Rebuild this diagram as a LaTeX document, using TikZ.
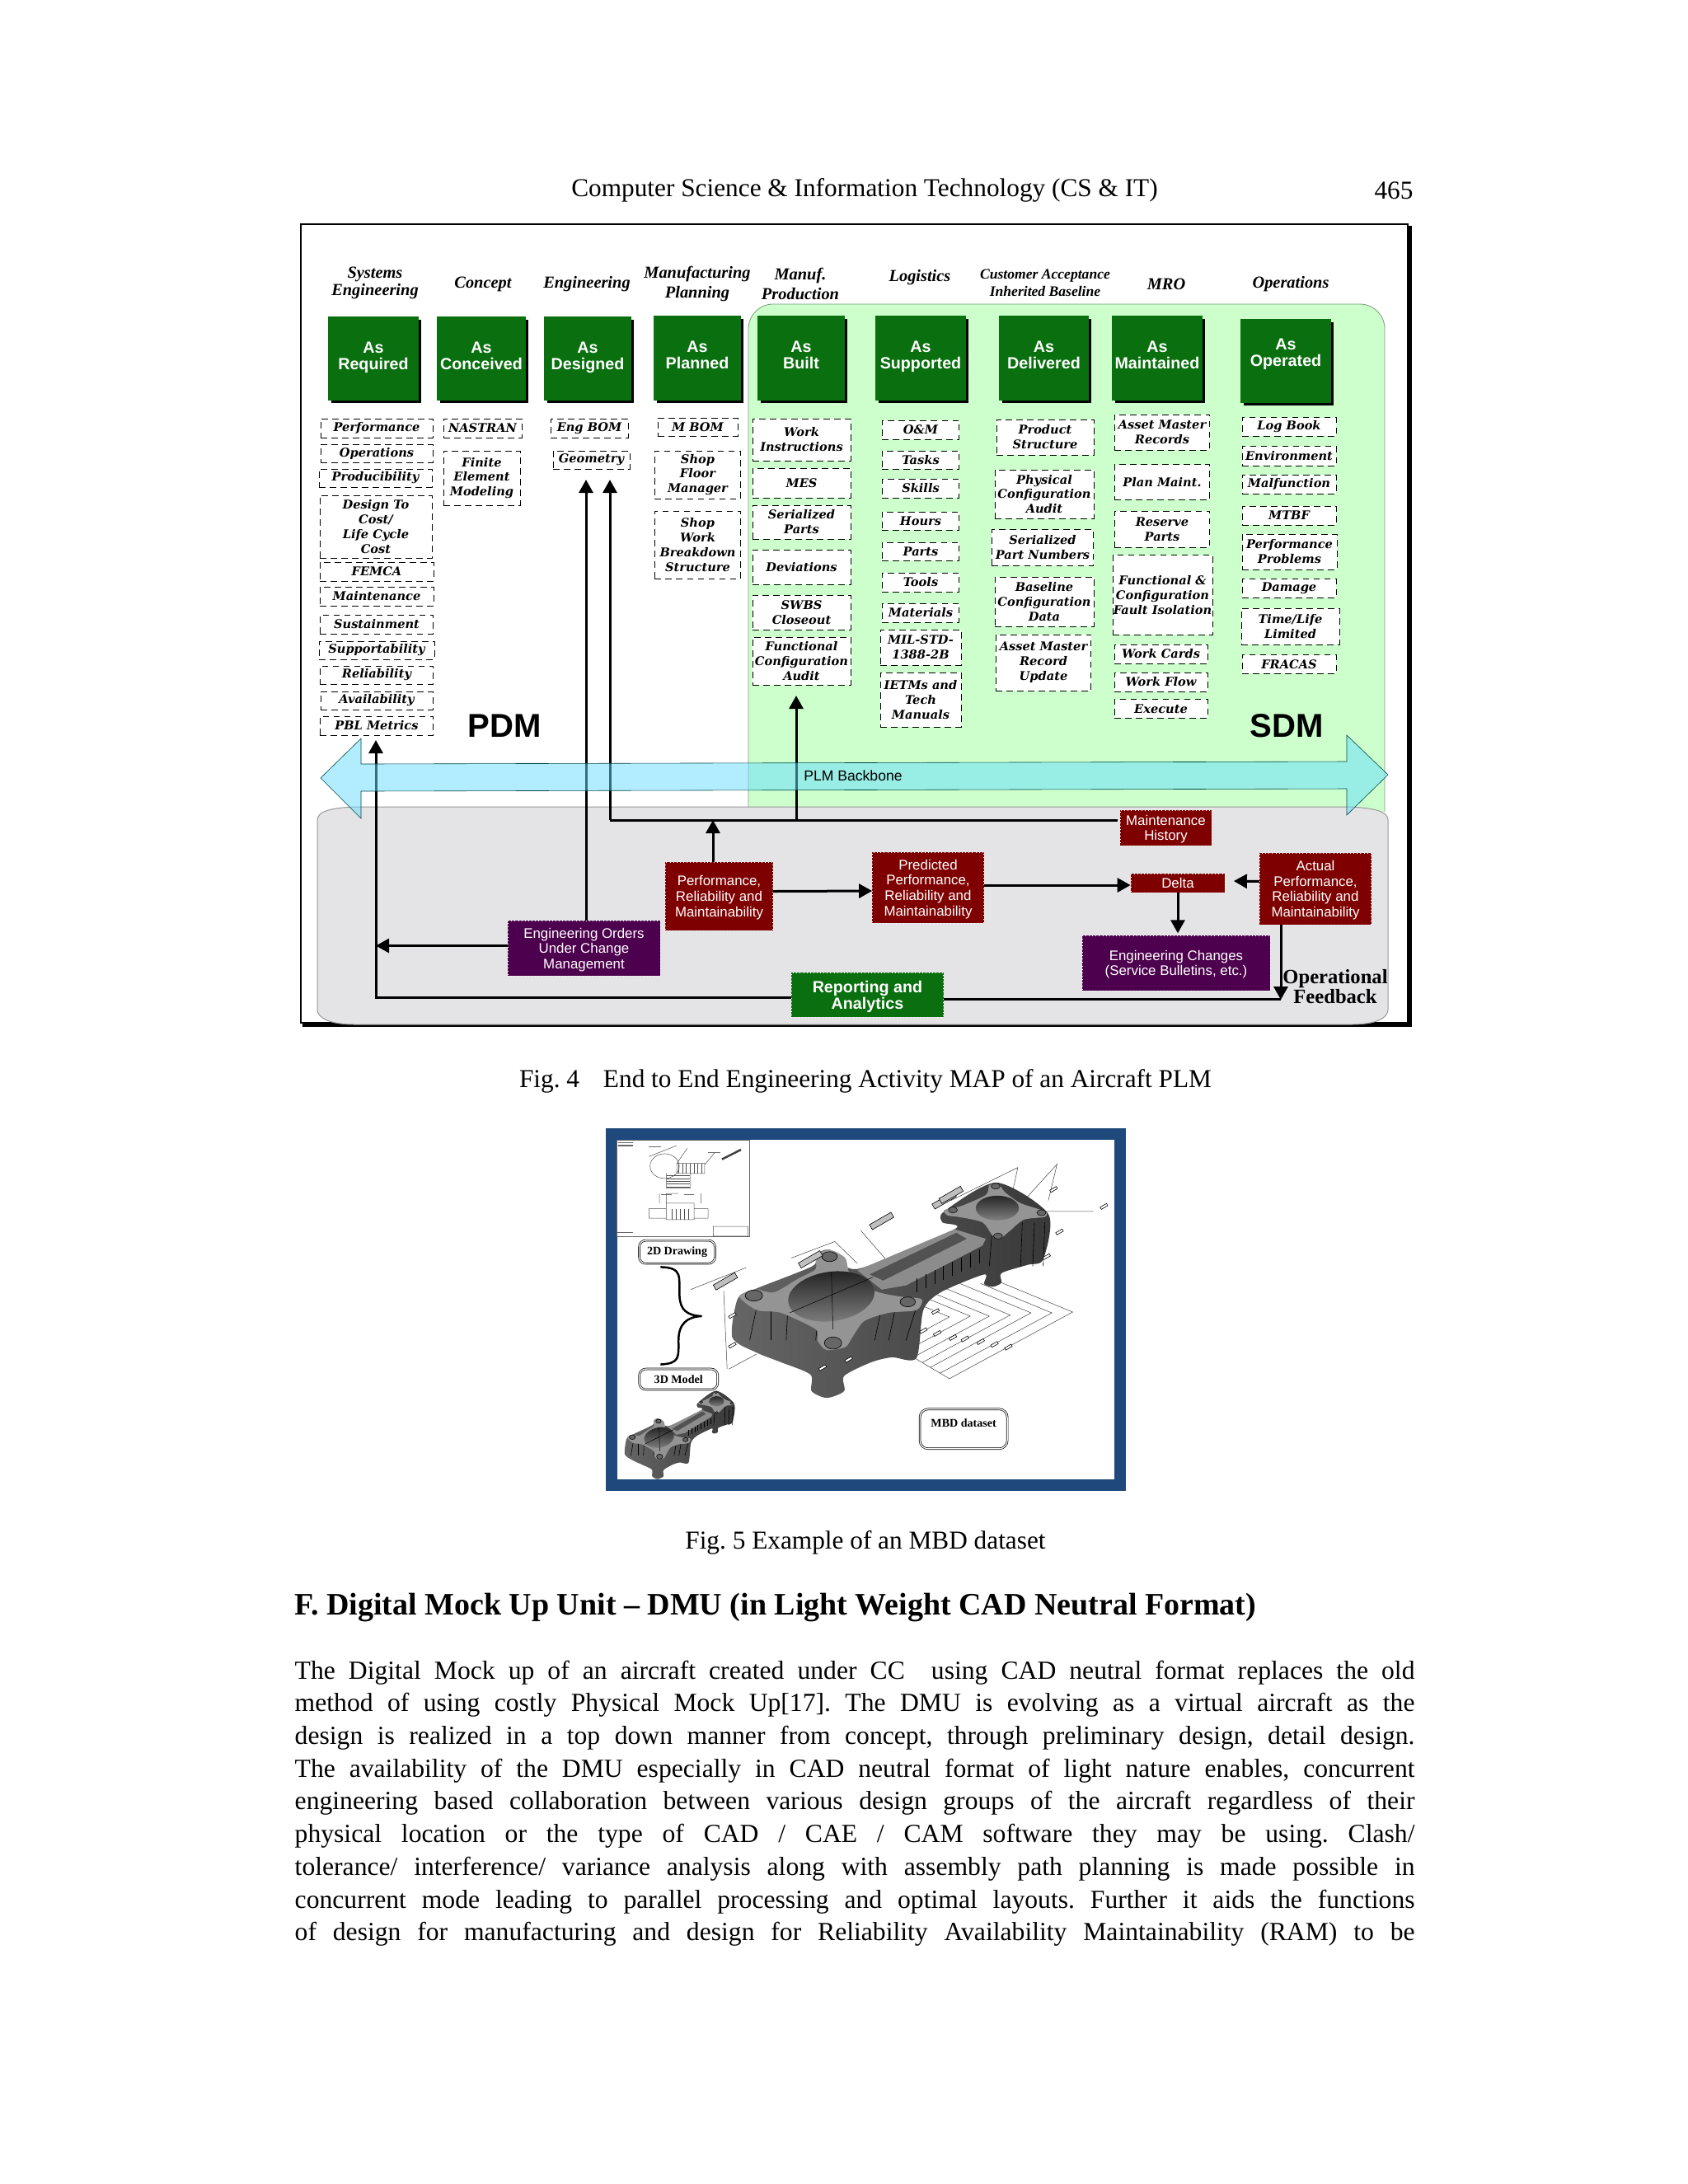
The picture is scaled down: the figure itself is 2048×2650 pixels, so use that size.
\documentclass[tikz,border=0pt]{standalone}
\usepackage{fontspec}
\setmainfont{Liberation Serif}
\setsansfont{Liberation Sans}
\newfontfamily\bookfont{DejaVu Serif}
\usetikzlibrary{arrows.meta, shadows}

\definecolor{asgreen}{HTML}{0A700F}
\definecolor{panelgreen}{HTML}{CCFFCC}
\definecolor{panelgray}{HTML}{E4E3E5}
\definecolor{bluearrow}{HTML}{66DDFF}
\definecolor{darkred}{HTML}{7F0000}
\definecolor{darkpurple}{HTML}{4D004D}
\definecolor{frameblue}{HTML}{1F497D}

\tikzset{
  boxsize/.style 2 args={minimum width=#1cm, minimum height=#2cm},
  asbox/.style={fill=asgreen, draw=asgreen, text=white, inner sep=0pt, align=center,
    font=\sffamily\bfseries\fontsize{5.6}{5.8}\selectfont, text depth=2pt,
    drop shadow={fill=black, opacity=1, shadow xshift=.035cm, shadow yshift=-.035cm}},
  dashbox/.style={draw, fill=white, dash pattern=on 2.2pt off 1.5pt, line width=.009cm,
    inner sep=0pt, align=center, font=\bookfont\bfseries\itshape\fontsize{4.15}{5.1}\selectfont},
  phase/.style={inner sep=0pt, align=center, font=\bfseries\itshape\fontsize{5.8}{6}\selectfont},
  sidelabel/.style={inner sep=0pt, font=\sffamily\bfseries\fontsize{11.4}{12}\selectfont},
  redbox/.style={fill=darkred, draw=white, densely dotted, line width=.006cm, text=white, inner sep=0pt,
    align=center, text depth=0pt, font=\sffamily\fontsize{4.8}{5.3}\selectfont},
  purplebox/.style={redbox, fill=darkpurple},
  reportbox/.style={redbox, fill=asgreen, font=\sffamily\bfseries\fontsize{5.6}{5.7}\selectfont},
  flow/.style={line width=.03cm, -{Triangle[length=.16cm, width=.17cm]}},
  plain/.style={line width=.03cm},
  pagetext/.style={inner sep=0pt, font=\frenchspacing\fontsize{8.9}{11.3}\selectfont},
  tagbox/.style={draw, double, rounded corners=.08cm, line width=.007cm, double distance=.012cm, inner sep=0pt,
    font=\bfseries\fontsize{4}{4.2}\selectfont},
  dimline/.style={line width=.005cm, black!75},
  dimtag/.style={draw, fill=white, line width=.006cm, inner sep=0pt, minimum width=.09cm, minimum height=.03cm},
  rodbody/.pic={
    % silhouette of the part
    \shade[left color=black!60, right color=black!78] plot[smooth cycle, tension=.45] coordinates {(415,650) (400,790) (470,845) (540,880) (625,925) (628,985)
      (672,1010) (722,985) (722,930) (800,880) (860,862) (930,865) (950,690) (1000,625) (1125,560) (1125,595)
      (1150,605) (1175,590) (1175,555) (1250,525) (1295,505) (1310,340) (1160,225) (1010,330) (1005,370)
      (1040,395) (760,540) (680,470) (640,490) (630,530) (462,615)};
    % edges on the sides
    \foreach \a/\b in {450/470, 510/510, 555/560, 640/650, 700/720, 810/830, 850/870, 900/930}
      \draw[black, line width=.006cm] (\a,800) -- (\b,680);
    \foreach \a/\b in {1140/1150, 1230/1235, 1265/1270, 1295/1300}
      \draw[black, line width=.006cm] (\a,530) -- (\b,370);
    % web of the shank
    \fill[black!45] (760,545) -- (1040,395) -- (1130,430) -- (1120,455) -- (900,600) -- (830,615) -- cycle;
    \fill[black!68] (795,560) -- (1045,408) -- (1075,430) -- (835,582) -- cycle;
    \foreach \a in {0,...,7}
      \draw[black, line width=.005cm] (930+\a*26,625-\a*15) -- (930+\a*26,575-\a*15);
    % big end top face
    \fill[black!42] plot[smooth cycle, tension=.45] coordinates {(420,640) (465,615) (520,625) (590,575) (640,540) (640,490)
      (680,470) (725,500) (740,560) (810,620) (880,640) (945,650) (930,690) (850,700) (780,730) (745,790)
      (725,825) (670,835) (645,800) (640,760) (540,700) (470,690)};
    \shade[top color=black!85, bottom color=black!50, rotate around={8:(685,640)}] (685,640) ellipse [x radius=125, y radius=90];
    \foreach \a/\b/\rx/\ry in {462/637/25/20, 680/495/22/18, 905/660/22/18, 690/810/25/22}
      \filldraw[fill=black!60, draw=black, line width=.006cm] (\a,\b) ellipse [x radius=\rx, y radius=\ry];
    \draw[black, line width=.005cm] (565,700) -- (805,570) (685,550) -- (690,760);
    % small end top face
    \fill[black!42] plot[smooth cycle, tension=.45] coordinates {(1010,325) (1060,310) (1130,270) (1140,235) (1165,228)
      (1185,260) (1230,300) (1300,330) (1300,350) (1240,360) (1200,400) (1170,430) (1150,420) (1120,370) (1050,350) (1020,345)};
    \shade[top color=black!85, bottom color=black!50] (1163,318) ellipse [x radius=62, y radius=45];
    \foreach \a/\b in {1035/325, 1158/238, 1290/335, 1165/420}
      \filldraw[fill=black!60, draw=black, line width=.005cm] (\a,\b) ellipse [x radius=13, y radius=11];
  }
}

\begin{document}
\begin{tikzpicture}[x=.01cm, y=-.01cm]
  \useasboundingbox (0,0) rectangle (2048,2650);
  \fill[white] (0,0) rectangle (2048,2650);

  % Page header
  \node[pagetext] (runhead) at (1049,231) {Computer Science \& Information Technology (CS \& IT)};
  \node[pagetext] (pageno) at (1691,231) {465};

  % Figure 4 frame and panels
  \draw[line width=.02cm, fill=white] (365,272) rectangle (1708,1241);
  \draw[line width=.05cm] (1710,274) -- (1710,1243) -- (367,1243);
  \draw[panelgreen!60!black, line width=.008cm, fill=panelgreen, rounded corners=.3cm]
    (908,985) -- (908,369) -- (1680,369) -- (1680,985);
  \draw[black!40, line width=.01cm, fill=panelgray]
    (385,995) .. controls (385,985) and (400,979) .. (440,979) -- (1640,979)
    .. controls (1670,981) and (1684,985) .. (1684,995) -- (1684,1225)
    .. controls (1684,1235) and (1670,1243) .. (1640,1243) -- (430,1243)
    .. controls (400,1243) and (385,1235) .. (385,1225) -- cycle;

  % Phases
  \node[phase] (phsys) at (455,343.5) {Systems\\Engineering};
  \node[phase] (phcon) at (586,344.5) {Concept};
  \node[phase] (pheng) at (712,344.5) {Engineering};
  \node[phase] (phpla) at (846,344.5) {Manufacturing\\[.8pt]Planning};
  \node[phase] (phpro) at (971,344.5) {Manuf.\\[.8pt]Production};
  \node[phase] (phlog) at (1116,336.5) {Logistics};
  \node[phase, font=\bfseries\itshape\fontsize{5}{6}\selectfont] (phacc) at (1268,343.5) {Customer Acceptance\\Inherited Baseline};
  \node[phase] (phmro) at (1415,344.5) {MRO};
  \node[phase] (phope) at (1566,344.5) {Operations};

  % As-is states
  \node[asbox, boxsize={1.08}{1.00}] (asreq) at (453,435) {As\\Required};
  \node[asbox, boxsize={1.07}{1.00}] (ascon) at (584,435) {As\\Conceived};
  \node[asbox, boxsize={1.04}{1.00}] (asdes) at (713,435) {As\\Designed};
  \node[asbox, boxsize={1.04}{1.01}] (aspla) at (846,434.5) {As\\Planned};
  \node[asbox, boxsize={1.04}{1.01}] (asbui) at (972,434.5) {As\\Built};
  \node[asbox, boxsize={1.08}{1.01}] (assup) at (1117,434.5) {As\\Supported};
  \node[asbox, boxsize={1.08}{1.01}] (asdel) at (1266.5,434.5) {As\\Delivered};
  \node[asbox, boxsize={1.08}{1.01}] (asmai) at (1404,434.5) {As\\Maintained};
  \node[asbox, boxsize={1.08}{1.00}, text depth=6pt] (asope) at (1560,438) {As\\Operated};

  % Systems engineering column
  \node[dashbox, boxsize={1.36}{.23}] (perf) at (457,519.5) {Performance};
  \node[dashbox, boxsize={1.36}{.22}] (oper) at (457,550) {Operations};
  \node[dashbox, boxsize={1.37}{.22}] (prod) at (455.5,580) {Producibility};
  \node[dashbox, boxsize={1.36}{.76}] (dtc) at (456,639) {Design To\\Cost/\\Life Cycle\\Cost};
  \node[dashbox, boxsize={1.38}{.23}] (femca) at (457,693.5) {FEMCA};
  \node[dashbox, boxsize={1.38}{.23}] (maint) at (457,723.5) {Maintenance};
  \node[dashbox, boxsize={1.37}{.23}] (sust) at (457,757.5) {Sustainment};
  \node[dashbox, boxsize={1.40}{.22}] (supp) at (457,789) {Supportability};
  \node[dashbox, boxsize={1.37}{.22}] (reli) at (457,819) {Reliability};
  \node[dashbox, boxsize={1.36}{.22}] (avail) at (457,850) {Availability};
  \node[dashbox, boxsize={1.37}{.23}] (pbl) at (457,880.5) {PBL Metrics};

  % Concept and engineering columns
  \node[dashbox, boxsize={.95}{.23}] (nastran) at (585.5,519.5) {NASTRAN};
  \node[dashbox, boxsize={.93}{.66}] (fem) at (584.5,580) {Finite\\Element\\Modeling};
  \node[dashbox, boxsize={.94}{.23}] (ebom) at (715,519.5) {Eng BOM};
  \node[dashbox, boxsize={.93}{.22}] (geom) at (717.5,558) {Geometry};

  % Manufacturing planning column
  \node[dashbox, boxsize={.97}{.22}] (mbom) at (846.5,518) {M BOM};
  \node[dashbox, boxsize={1.04}{.58}] (sfm) at (846.5,576) {Shop\\Floor\\Manager};
  \node[dashbox, boxsize={1.04}{.82}] (swbs) at (846.5,661) {Shop\\Work\\Breakdown\\Structure};

  % Production column
  \node[dashbox, boxsize={1.19}{.51}] (wi) at (972.5,533.5) {Work\\Instructions};
  \node[dashbox, boxsize={1.19}{.36}] (mes) at (972.5,586) {MES};
  \node[dashbox, boxsize={1.19}{.41}] (serp) at (972.5,633.5) {Serialized\\Parts};
  \node[dashbox, boxsize={1.19}{.42}] (devi) at (972.5,688) {Deviations};
  \node[dashbox, boxsize={1.19}{.42}] (close) at (972.5,743) {SWBS\\Closeout};
  \node[dashbox, boxsize={1.19}{.58}] (fca) at (972.5,802) {Functional\\Configuration\\Audit};

  % Logistics column
  \node[dashbox, boxsize={.935}{.23}] (om) at (1117,521.5) {O\&M};
  \node[dashbox, boxsize={.935}{.22}] (tasks) at (1117,558) {Tasks};
  \node[dashbox, boxsize={.935}{.23}] (skills) at (1117,592.5) {Skills};
  \node[dashbox, boxsize={.935}{.22}] (hours) at (1117,632) {Hours};
  \node[dashbox, boxsize={.935}{.22}] (parts) at (1117,669) {Parts};
  \node[dashbox, boxsize={.935}{.23}] (tools) at (1117,706.5) {Tools};
  \node[dashbox, boxsize={.935}{.23}] (mats) at (1117,743.5) {Materials};
  \node[dashbox, boxsize={.98}{.43}] (mil) at (1117,785.5) {MIL-STD-\\1388-2B};
  \node[dashbox, boxsize={.98}{.66}] (ietm) at (1117,849) {IETMs and\\Tech\\Manuals};

  % Delivery column
  \node[dashbox, boxsize={1.18}{.43}] (pstr) at (1268,530.5) {Product\\Structure};
  \node[dashbox, boxsize={1.20}{.59}] (pca) at (1267,599.5) {Physical\\Configuration\\Audit};
  \node[dashbox, boxsize={1.23}{.435}] (spn) at (1265,664.5) {Serialized\\Part Numbers};
  \node[dashbox, boxsize={1.20}{.60}] (bcd) at (1267,730) {Baseline\\Configuration\\Data};
  \node[dashbox, boxsize={1.155}{.68}] (amru) at (1266,804) {Asset Master\\Record\\Update};

  % MRO column
  \node[dashbox, boxsize={1.155}{.43}] (amr) at (1410,524.5) {Asset Master\\Records};
  \node[dashbox, boxsize={1.155}{.425}] (plan) at (1410,585) {Plan Maint.};
  \node[dashbox, boxsize={1.155}{.44}] (res) at (1410,642) {Reserve\\Parts};
  \node[dashbox, boxsize={1.21}{.965}] (fcfi) at (1410.5,722) {Functional \&\\Configuration\\Fault Isolation};
  \node[dashbox, boxsize={1.13}{.23}] (wc) at (1408.5,793.5) {Work Cards};
  \node[dashbox, boxsize={1.13}{.23}] (wf) at (1408.5,827.5) {Work Flow};
  \node[dashbox, boxsize={1.13}{.225}] (exec) at (1408.5,860) {Execute};

  % Operations column
  \node[dashbox, boxsize={1.14}{.225}] (logb) at (1564,518) {Log Book};
  \node[dashbox, boxsize={1.14}{.235}] (env) at (1564,553.5) {Environment};
  \node[dashbox, boxsize={1.14}{.23}] (malf) at (1564,587.5) {Malfunction};
  \node[dashbox, boxsize={1.14}{.23}] (mtbf) at (1564,625.5) {MTBF};
  \node[dashbox, boxsize={1.15}{.43}] (pp) at (1564.5,669.5) {Performance\\Problems};
  \node[dashbox, boxsize={1.14}{.225}] (dam) at (1564,714) {Damage};
  \node[dashbox, boxsize={1.19}{.44}] (tll) at (1565.5,760) {Time/Life\\Limited};
  \node[dashbox, boxsize={1.14}{.225}] (frac) at (1564,806) {FRACAS};

  \node[sidelabel] (pdm) at (612,881) {PDM};
  \node[sidelabel] (sdm) at (1561,881) {SDM};

  % Lifecycle feedback boxes
  \node[redbox, boxsize={1.11}{.43}] (mhist) at (1414.5,1004.5) {Maintenance\\History};
  \node[redbox, boxsize={1.30}{.83}] (prm) at (872.5,1087.5) {Performance,\\Reliability and\\Maintainability};
  \node[redbox, boxsize={1.35}{.86}] (pprm) at (1126,1077) {Predicted\\Performance,\\Reliability and\\Maintainability};
  \node[redbox, boxsize={1.14}{.23}] (delta) at (1429,1071.5) {Delta};
  \node[redbox, boxsize={1.35}{.87}] (aprm) at (1596,1078.5) {Actual\\Performance,\\Reliability and\\Maintainability};
  \node[purplebox, boxsize={1.85}{.67}] (eouc) at (708.5,1150.5) {Engineering Orders\\Under Change\\Management};
  \node[purplebox, boxsize={2.28}{.67}] (echg) at (1427,1168.5) {Engineering Changes\\(Service Bulletins, etc.)};
  \node[reportbox, boxsize={1.84}{.54}] (rep) at (1052.5,1207) {Reporting and\\Analytics};
  \node[inner sep=0pt, align=center, font=\bfseries\fontsize{7}{6.6}\selectfont] (opfb) at (1620,1197) {Operational\\Feedback};

  % Connectors
  \coordinate (bus) at (865,995);
  \coordinate (geotip) at (740,582);
  \coordinate (eotip) at (711,582);
  \coordinate (fcatip) at (966,844);
  \coordinate (pbltip) at (456,898);
  \coordinate (repcorner) at (456,1210);
  \coordinate (opftip) at (1554,1213);
  \draw[flow] (prm.north -| bus) -- (bus);
  \draw[plain] (mhist.west |- bus) ++(-3,0) -- (geotip |- bus);
  \draw[flow] (geotip |- bus) -- (geotip);
  \draw[flow] (fcatip |- bus) -- (fcatip);
  \draw[flow] (eouc.north -| eotip) -- (eotip);
  \draw[flow] (rep.west |- repcorner) -- (repcorner) -- (pbltip);
  \draw[flow] (eouc.west) ++(0,-3) -- (456,1147.5);
  \draw[flow] (prm.east) ++(0,-6) -- (pprm.west |- 0,1081);
  \draw[flow] (pprm.east) ++(0,-3) -- (delta.west |- 0,1074);
  \draw[flow] (aprm.west) ++(0,-9) -- ([xshift=3]delta.east |- 0,1069);
  \draw[flow] (delta.south) -- ++(0,49) coordinate (echgtip);
  \draw[flow] (aprm.south -| opftip) -- (opftip);
  \draw[plain] (rep.east |- opftip) ++(0,-1) -- (1554,1212);

  % PLM backbone
  \fill[bluearrow, opacity=.5] (389,944) -- (438,896) -- (438,927) -- (1634,924) -- (1634,892) -- (1684,940)
    -- (1634,989) -- (1634,957) -- (438,960) -- (438,993) -- cycle;
  \draw[black!45!teal, line width=.006cm] (389,944) -- (438,896) -- (438,927) -- (1634,924) -- (1634,892) -- (1684,940)
    -- (1634,989) -- (1634,957) -- (438,960) -- (438,993) -- cycle;
  \node[inner sep=0pt, font=\sffamily\fontsize{5}{6}\selectfont] (plm) at (1035,941) {PLM Backbone};

  \node[pagetext] (cap4) at (1050,1312) {Fig. 4\hspace{6pt} End to End Engineering Activity MAP of an Aircraft PLM};

  % Figure 5
  \draw[line width=.14cm, frameblue] (742,1376) rectangle (1359,1802);
  \begin{scope}[shift={(720,1360)}, x=.00421cm, y=-.00333cm]
    % 2D sheet
    \draw[black!60, line width=.006cm] (68,70) rectangle (450,422);
    \draw[black!70, line width=.005cm] (205,165) ellipse [x radius=42, y radius=45] (240,155) rectangle (320,192)
      (345,385) rectangle (445,420) (210,300) rectangle (290,360) (160,320) rectangle (210,355) (290,320) rectangle (330,355)
      (190,265) -- (190,300) (310,265) -- (310,300) (210,190) -- (210,245) -- (280,245) -- (280,190)
      (160,130) -- (240,90) (240,155) -- (270,100) (320,160) -- (350,115) (210,300) -- (210,265) -- (245,265);
    \foreach \a in {0,...,6}
      \draw[black!70, line width=.005cm] (245+\a*11,155) -- (245+\a*11,192);
    \foreach \a in {0,...,4}
      \draw[black!70, line width=.005cm] (225+\a*12,320) -- (225+\a*12,360) (212,200+\a*10) -- (278,200+\a*10);
    \draw[black!60, line width=.012cm] (72,80) -- (115,80) (72,90) -- (115,90) (160,95) -- (195,95) (330,115) -- (365,115)
      (195,270) -- (225,270) (260,268) -- (290,268) (70,408) -- (115,408);
    \draw[black!75, line width=.025cm] (370,140) -- (425,105);
    % connecting rod with its dimensions
    \foreach \x/\y/\u/\v in {1025/715/868/822, 1085/712/895/842, 1140/712/921/862, 1200/708/947/881, 1260/700/970/899, 1320/700/998/920}
      \draw[dimline] (\u,\v) -- (\x,\y) -- (\x-205,\y-107);
    \draw[dimline] (925,865) -- (1025,940) -- (1380,697) -- (1175,590);
    \draw[dimline] (280,615) -- (440,535) (390,905) -- (470,850) (385,905) -- (375,620) (1030,290) -- (1222,170) -- (1200,300)
      (1240,290) -- (1335,158) -- (1310,290) (1300,330) -- (1440,330) (770,400) -- (900,590) (570,500) -- (695,440) -- (760,520);
    \pic at (0,0) {rodbody};
    \foreach \x/\y in {985/695, 950/765, 990/775, 1035/790, 1070/795, 1115/805, 1155/815, 1195/825, 400/710, 400/818,
      660/900, 735/870, 1325/250, 1470/312, 1342/405, 1305/495}
      \node[dimtag, rotate=30] at (\x,\y) {};
    \foreach \x/\y in {380/585, 625/505, 830/365, 1010/290, 1030/270}
      \node[dimtag, rotate=30, minimum width=.3cm, minimum height=.07cm, fill=black!25] at (\x,\y) {};
    \pic[xscale=.346, yscale=.41] at (-48,892) {rodbody};
    % Labels
    \node[tagbox, boxsize={.92}{.28}] (dwg) at (241,478) {2D Drawing};
    \node[tagbox, boxsize={.95}{.25}] (mdl) at (245,942) {3D Model};
    \node[tagbox, boxsize={1.06}{.48}, text depth=4pt, rounded corners=.1cm] (mbd) at (1066,1123) {MBD dataset};
    \draw[line width=.025cm] (193,533) .. controls (260,535) and (245,570) .. (248,640) .. controls (250,690) and (270,710) .. (312,712)
      .. controls (270,714) and (245,740) .. (245,800) .. controls (245,860) and (250,885) .. (193,888);
  \end{scope}
  \node[pagetext] (cap5) at (1050,1872) {Fig. 5 Example of an MBD dataset};

  % Section text
  \node[inner sep=0pt, anchor=west, font=\bfseries\fontsize{10.8}{13}\selectfont] (sect) at (357,1950)
    {F. Digital Mock Up Unit – DMU (in Light Weight CAD Neutral Format)};
  \node[pagetext, anchor=north west, text width=13.58cm, align=justify, font=\frenchspacing\fontsize{9}{11.3}\selectfont] (body) at (357,2014)
    {The Digital Mock up of an aircraft created under CC\ \ using CAD neutral format replaces the old\linebreak
    method of using costly Physical Mock Up[17]. The DMU is evolving as a virtual aircraft as the\linebreak
    design is realized in a top down manner from concept, through preliminary design, detail design.\linebreak
    The availability of the DMU especially in CAD neutral format of light nature enables, concurrent\linebreak
    engineering based collaboration between various design groups of the aircraft regardless of their\linebreak
    physical location or the type of CAD / CAE / CAM software they may be using. Clash/\linebreak
    tolerance/ interference/ variance analysis along with assembly path planning is made possible in\linebreak
    concurrent mode leading to parallel processing and optimal layouts. Further it aids the functions\linebreak
    of design for manufacturing and design for Reliability Availability Maintainability (RAM) to be\linebreak};
\end{tikzpicture}
\end{document}
